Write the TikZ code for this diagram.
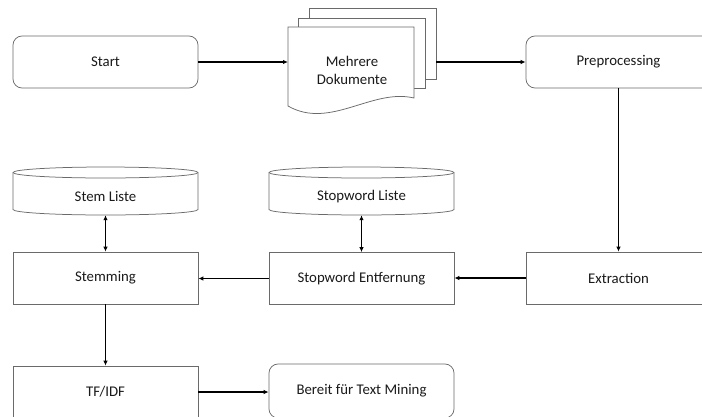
\documentclass[tikz,border=0pt]{standalone}
\usepackage{fontspec}
\setmainfont{Carlito}
\usetikzlibrary{arrows.meta}
\definecolor{edge}{HTML}{6A6A6A}
\definecolor{ink}{HTML}{1A1A1A}
\begin{document}
\begin{tikzpicture}[x=1pt,y=1pt,
  font=\fontsize{14.8}{17.5}\selectfont, text=ink,
  base/.style={draw=edge, line width=0.75pt, fill=white, minimum width=185pt, align=center, inner sep=0pt},
  procbox/.style={base, rectangle, minimum height=52pt},
  termbox/.style={base, rectangle, rounded corners=9pt, minimum height=52pt},
  storetext/.style={rectangle, draw=none, minimum width=185pt, minimum height=37pt, inner sep=0pt},
  shell/.style={draw=edge, line width=0.75pt, fill=white},
  flow/.style={draw=black, line width=1.6pt, -{Latex[length=5pt,width=4.5pt]}},
  dflow/.style={draw=black, line width=1.6pt, {Latex[length=5pt,width=4.5pt]}-{Latex[length=5pt,width=4.5pt]}}
]
\useasboundingbox (0,0) rectangle (702,-416);
\clip (0,0) rectangle (702,-416);

% top row
\node[termbox] (start) at (105.5,-62) {Start};
\node[termbox] (prep) at (618.5,-62) {Preprocessing};

% stacked document pages (back to front)
\draw[shell] (309,-8) rectangle (436,-79);
\draw[shell] (298,-18) rectangle (425,-88);
\draw[shell] (288,-27) -- (414,-27) -- (414,-98)
  .. controls (372,-88) and (330,-130) .. (288,-106) -- cycle;
\node[align=center, inner sep=0pt] (docs) at (352,-70.5) {Mehrere\\Dokumente};
\coordinate (docsin) at (288,-62);
\coordinate (docsout) at (436,-62);

% middle row
\node[procbox] (extr) at (618.5,-278) {Extraction};
\node[procbox] (stopent) at (361.5,-278.5) {Stopword Entfernung};
\node[procbox] (stem) at (105.5,-278) {Stemming};

% word lists (cylinders)
\draw[shell] (13,-172.5) -- (13,-209.5)
  arc[start angle=180, end angle=360, x radius=92.5, y radius=5.5]
  -- (198,-172.5)
  arc[start angle=0, end angle=180, x radius=92.5, y radius=5.5] -- cycle;
\draw[edge, line width=0.75pt] (13,-172.5)
  arc[start angle=180, end angle=360, x radius=92.5, y radius=5.5];
\node[storetext] (stemlist) at (105.5,-196.5) {Stem Liste};

\draw[shell] (269,-172.5) -- (269,-209.5)
  arc[start angle=180, end angle=360, x radius=92.5, y radius=5.5]
  -- (454,-172.5)
  arc[start angle=0, end angle=180, x radius=92.5, y radius=5.5] -- cycle;
\draw[edge, line width=0.75pt] (269,-172.5)
  arc[start angle=180, end angle=360, x radius=92.5, y radius=5.5];
\node[storetext] (stoplist) at (361.5,-196.5) {Stopword Liste};

% bottom row
\node[procbox] (tfidf) at (105.5,-392) {TF/IDF};
\node[termbox, minimum height=54pt] (ready) at (361.5,-391) {Bereit für Text Mining};

% connectors
\draw[flow] (start.east) -- (docsin);
\draw[flow] (docsout) -- (prep.west);
\draw[flow] (prep.south) -- (extr.north);
\draw[flow] (extr.west) -- (extr.west -| stopent.east);
\draw[flow] (stopent.west) -- (stopent.west -| stem.east);
\draw[flow] (stem.south) -- (tfidf.north);
\draw[flow] (tfidf.east) -- (tfidf.east -| ready.west);
\draw[dflow] (stemlist.south) -- (stem.north);
\draw[dflow] (stoplist.south) -- (stopent.north);
\end{tikzpicture}
\end{document}
